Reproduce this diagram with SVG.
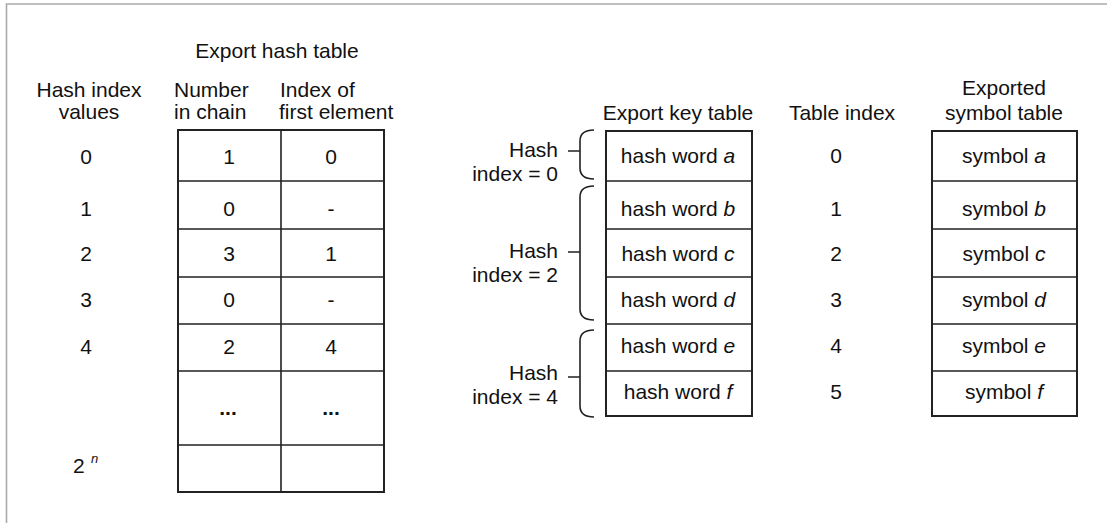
<svg xmlns="http://www.w3.org/2000/svg" width="1107" height="523" viewBox="0 0 1107 523">
<style>
text{font-family:"Liberation Sans",Arial,sans-serif;font-size:21px;fill:#111}
.m{text-anchor:middle}
.e{text-anchor:end}
.i{font-style:italic}
.b{font-weight:bold}
.tbl{fill:#fff;stroke:#222;stroke-width:2}
.ln{stroke:#222;stroke-width:1.6;fill:none}
.br{stroke:#222;stroke-width:1.6;fill:none}
</style>
<rect width="1107" height="523" fill="#fff"/>
<path d="M6.5,523 V4 H1107" fill="none" stroke="#aaa" stroke-width="1.6"/>

<g id="labels">
<text class="m" x="277" y="58">Export hash table</text>
<text class="m" x="89" y="97">Hash index</text>
<text class="m" x="89" y="119">values</text>
<text x="174" y="97">Number</text>
<text x="174" y="119">in chain</text>
<text x="280" y="97">Index of</text>
<text x="279" y="119">first element</text>
<text class="m" x="678" y="120">Export key table</text>
<text class="m" x="842" y="120">Table index</text>
<text class="m" x="1004" y="95">Exported</text>
<text class="m" x="1004" y="120">symbol table</text>
</g>

<g id="hash-index-values">
<text class="m" x="86" y="164">0</text>
<text class="m" x="86" y="216">1</text>
<text class="m" x="86" y="261">2</text>
<text class="m" x="86" y="307">3</text>
<text class="m" x="86" y="354">4</text>
<text x="73" y="473">2</text>
<text class="i" x="91" y="463" style="font-size:13px">n</text>
</g>

<g id="export-hash-table">
<rect class="tbl" x="178" y="130" width="206" height="362"/>
<path class="ln" d="M281,130 V492 M178,181 H384 M178,229 H384 M178,277 H384 M178,324 H384 M178,371 H384 M178,445 H384"/>
<text class="m" x="229" y="164">1</text><text class="m" x="331" y="164">0</text>
<text class="m" x="229" y="216">0</text><text class="m" x="331" y="216">-</text>
<text class="m" x="229" y="261">3</text><text class="m" x="331" y="261">1</text>
<text class="m" x="229" y="307">0</text><text class="m" x="331" y="307">-</text>
<text class="m" x="229" y="354">2</text><text class="m" x="331" y="354">4</text>
<text class="m b" x="228" y="415">...</text><text class="m b" x="331" y="415">...</text>
</g>

<g id="export-key-table">
<rect class="tbl" x="606" y="131" width="146" height="285"/>
<path class="ln" d="M606,181 H752 M606,229 H752 M606,277 H752 M606,324 H752 M606,371 H752"/>
<text class="m" x="678" y="163">hash word <tspan class="i">a</tspan></text>
<text class="m" x="678" y="216">hash word <tspan class="i">b</tspan></text>
<text class="m" x="678" y="261">hash word <tspan class="i">c</tspan></text>
<text class="m" x="678" y="307">hash word <tspan class="i">d</tspan></text>
<text class="m" x="678" y="353">hash word <tspan class="i">e</tspan></text>
<text class="m" x="678" y="399">hash word <tspan class="i">f</tspan></text>
</g>

<g id="table-index">
<text class="m" x="836" y="163">0</text>
<text class="m" x="836" y="216">1</text>
<text class="m" x="836" y="261">2</text>
<text class="m" x="836" y="307">3</text>
<text class="m" x="836" y="353">4</text>
<text class="m" x="836" y="399">5</text>
</g>

<g id="exported-symbol-table">
<rect class="tbl" x="932" y="131" width="145" height="285"/>
<path class="ln" d="M932,181 H1077 M932,229 H1077 M932,277 H1077 M932,324 H1077 M932,371 H1077"/>
<text class="m" x="1004" y="163">symbol <tspan class="i">a</tspan></text>
<text class="m" x="1004" y="216">symbol <tspan class="i">b</tspan></text>
<text class="m" x="1004" y="261">symbol <tspan class="i">c</tspan></text>
<text class="m" x="1004" y="307">symbol <tspan class="i">d</tspan></text>
<text class="m" x="1004" y="353">symbol <tspan class="i">e</tspan></text>
<text class="m" x="1004" y="399">symbol <tspan class="i">f</tspan></text>
</g>

<g id="hash-group-0">
<text class="e" x="558" y="157">Hash</text>
<text class="e" x="558" y="181">index = 0</text>
</g>
<g id="hash-group-2">
<text class="e" x="558" y="258">Hash</text>
<text class="e" x="558" y="282">index = 2</text>
</g>
<g id="hash-group-4">
<text class="e" x="558" y="380">Hash</text>
<text class="e" x="558" y="404">index = 4</text>
</g>

<g id="connectors">
<path class="br" d="M594,130 C584,130 580,134 580,141 V168 C580,175 584,179 594,179 M568,151 H580"/>
<path class="br" d="M594,186 C584,186 580,190 580,197 V309 C580,316 584,320 594,320 M568,252 H580"/>
<path class="br" d="M594,330 C584,330 580,334 580,341 V406 C580,413 584,417 594,417 M568,377 H580"/>
</g>
</svg>
